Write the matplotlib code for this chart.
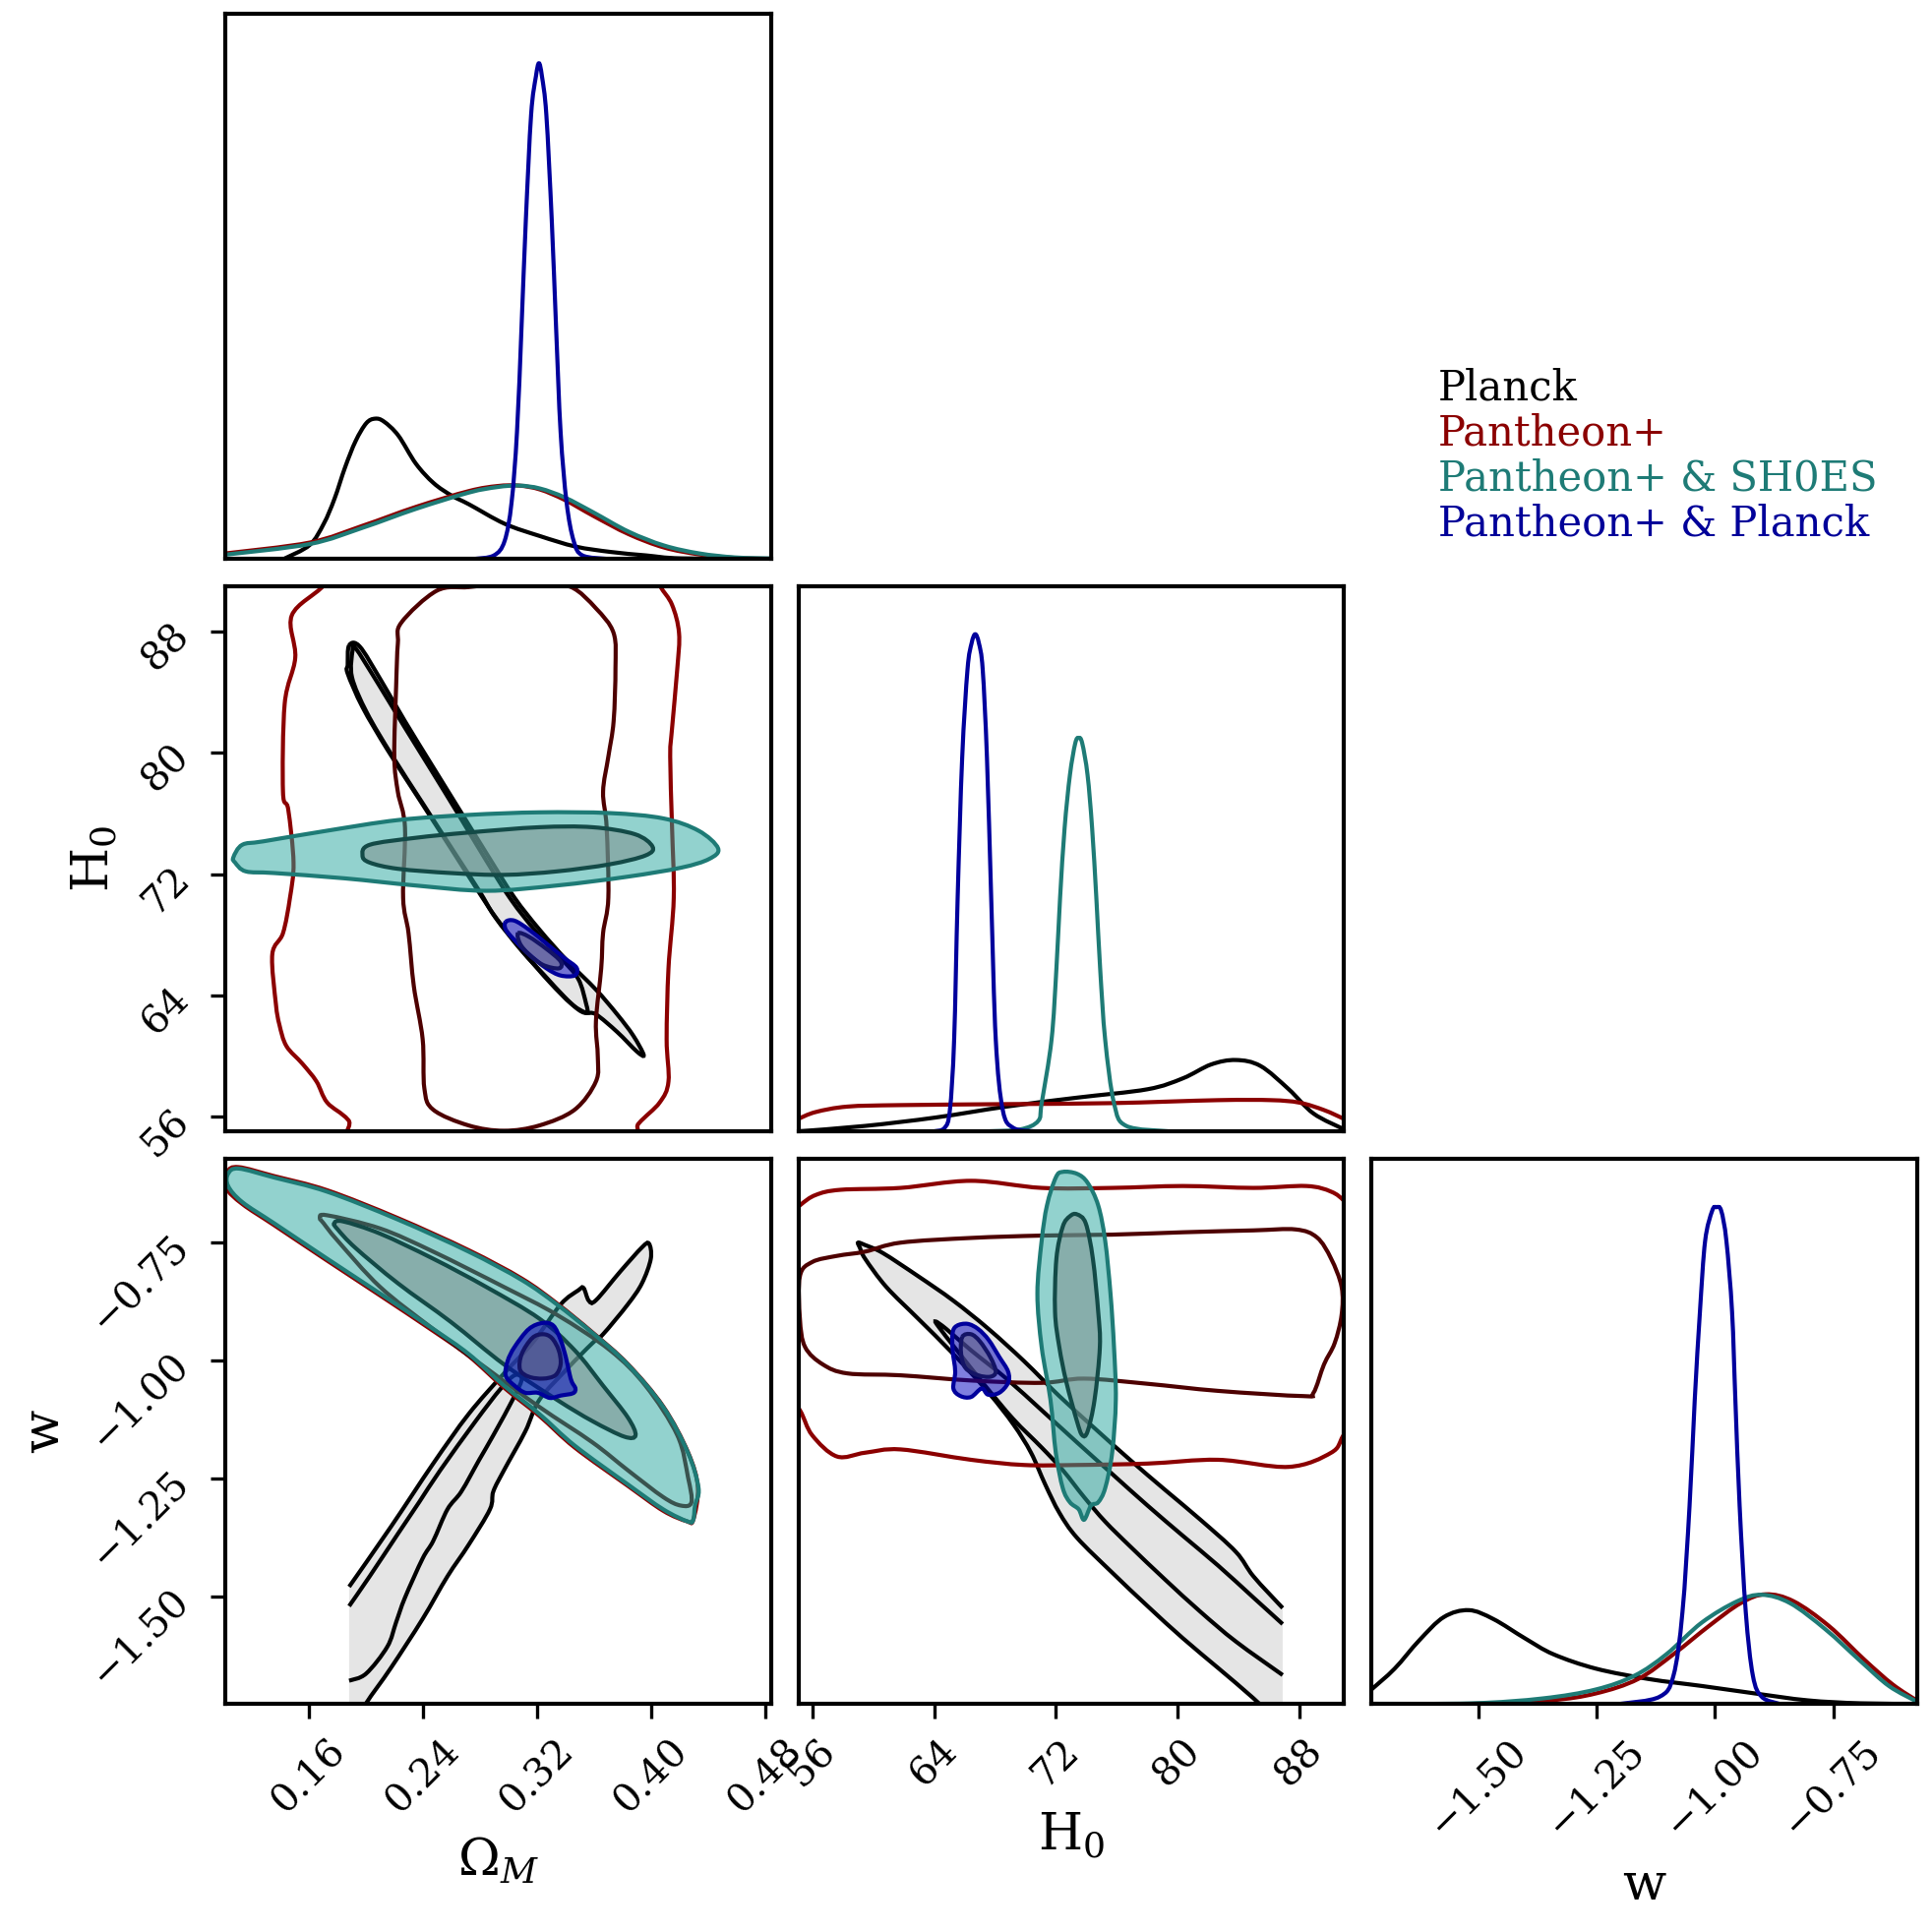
import numpy as np
import matplotlib.pyplot as plt
from matplotlib.path import Path
from matplotlib.patches import PathPatch

plt.rcParams['font.family'] = 'DejaVu Serif'
plt.rcParams['mathtext.fontset'] = 'dejavuserif'

names = ["Planck", "Pantheon+", "Pantheon+ & SH0ES", "Pantheon+ & Planck"]
line_colors = ["#000000", "#8b0000", "#1e7b76", "#00009c"]
inner_colors = ["#000000", "#4d0000", "#134a47", "#141466"]

om_lim = (0.1013, 0.4843)
h0_lim = (55.05, 90.97)
w_lim = (-1.727, -0.572)
om_ticks = [0.16, 0.24, 0.32, 0.40, 0.48]
om_ticklabels = ["0.16", "0.24", "0.32", "0.40", "0.48"]
h0_ticks = [56, 64, 72, 80, 88]
h0_ticklabels = ["56", "64", "72", "80", "88"]
w_ticks = [-1.50, -1.25, -1.00, -0.75]
w_ticklabels = ["\u22121.50", "\u22121.25", "\u22121.00", "\u22120.75"]

# ---- 1D marginals (relative density, blue peak = 1) ----
om_x_planck = [0.1431, 0.1605, 0.1704, 0.1779, 0.1854, 0.1928, 0.2003, 0.2065, 0.2127, 0.2227, 0.2351,
               0.2475, 0.2600, 0.2724, 0.2973, 0.3222, 0.3470, 0.3719, 0.3968, 0.4216, 0.4843]
om_pdf_planck = [0.001, 0.028, 0.071, 0.121, 0.185, 0.238, 0.274, 0.283, 0.277, 0.249, 0.192,
                 0.153, 0.128, 0.110, 0.071, 0.046, 0.025, 0.014, 0.007, 0.001, 0.0]
om_x_pan = [0.1013, 0.1605, 0.1978, 0.2351, 0.2724, 0.2923, 0.3072, 0.3222, 0.3395, 0.3595, 0.3843,
            0.4092, 0.4341, 0.4590, 0.4843]
om_pdf_pan = [0.011, 0.033, 0.067, 0.105, 0.137, 0.147, 0.148, 0.140, 0.119, 0.087, 0.050,
              0.023, 0.009, 0.002, 0.0]
om_x_shoes = [0.1013, 0.1605, 0.1978, 0.2351, 0.2724, 0.2923, 0.3072, 0.3222, 0.3395, 0.3595, 0.3843,
              0.4092, 0.4341, 0.4590, 0.4843]
om_pdf_shoes = [0.0085, 0.030, 0.063, 0.101, 0.134, 0.145, 0.148, 0.142, 0.124, 0.094, 0.055,
                0.027, 0.011, 0.003, 0.001]
om_x_pp = [0.2761, 0.2898, 0.2973, 0.3022, 0.3060, 0.3092, 0.3122, 0.3159, 0.3193, 0.3214,
           0.3235, 0.3266, 0.3304, 0.3334, 0.3366, 0.3408, 0.3458, 0.3520, 0.3694]
om_pdf_pp = [0.0, 0.007, 0.036, 0.114, 0.256, 0.469, 0.683, 0.896, 0.974, 1.0,
             0.974, 0.896, 0.683, 0.469, 0.256, 0.114, 0.036, 0.007, 0.0]

h0_x_planck = [55.03, 59.44, 64.09, 68.74, 73.38, 78.03, 80.35, 82.21, 83.84, 85.46, 87.32, 88.95, 90.97]
h0_pdf_planck = [0.0, 0.011, 0.028, 0.050, 0.068, 0.085, 0.107, 0.135, 0.144, 0.132, 0.085, 0.036, 0.004]
h0_x_pan = [55.03, 56.19, 58.28, 61.77, 68.74, 75.70, 82.67, 86.16, 88.02, 89.64, 90.97]
h0_pdf_pan = [0.025, 0.039, 0.050, 0.053, 0.055, 0.057, 0.063, 0.063, 0.058, 0.043, 0.025]
h0_x_shoes = [67.57, 69.66, 70.83, 71.06, 71.71, 72.03, 72.27, 72.57, 72.92, 73.27, 73.50,
              73.73, 74.08, 74.38, 74.66, 74.91, 75.24, 75.82, 76.63, 79.42]
h0_pdf_shoes = [0.0, 0.004, 0.021, 0.057, 0.185, 0.328, 0.470, 0.612, 0.719, 0.783, 0.794,
                0.783, 0.719, 0.612, 0.470, 0.328, 0.185, 0.057, 0.011, 0.0]
h0_x_pp = [63.97, 64.67, 65.02, 65.30, 65.53, 65.83, 66.18, 66.45, 66.69, 66.93, 67.18, 67.46,
           67.74, 68.04, 68.50, 69.20, 70.59]
h0_pdf_pp = [0.0, 0.007, 0.043, 0.185, 0.470, 0.754, 0.932, 0.985, 1.003, 0.985, 0.932, 0.754,
             0.470, 0.185, 0.043, 0.007, 0.0]

w_x_planck = [-1.727, -1.678, -1.626, -1.574, -1.521, -1.469, -1.402, -1.342, -1.252, -1.140,
              -1.028, -0.916, -0.804, -0.692, -0.572]
w_pdf_planck = [0.029, 0.071, 0.128, 0.175, 0.189, 0.171, 0.132, 0.100, 0.071, 0.050,
                0.036, 0.021, 0.007, 0.001, 0.0]
w_x_pan = [-1.727, -1.514, -1.349, -1.252, -1.163, -1.088, -1.013, -0.946, -0.893, -0.834,
           -0.759, -0.684, -0.624, -0.572]
w_pdf_pan = [0.0, 0.0, 0.007, 0.021, 0.050, 0.100, 0.157, 0.203, 0.221, 0.207,
             0.157, 0.089, 0.039, 0.006]
w_x_shoes = [-1.727, -1.514, -1.364, -1.252, -1.170, -1.103, -1.028, -0.953, -0.901, -0.841,
             -0.766, -0.692, -0.632, -0.572]
w_pdf_shoes = [0.0, 0.001, 0.011, 0.029, 0.057, 0.100, 0.164, 0.207, 0.220, 0.203,
               0.150, 0.086, 0.036, 0.004]
w_x_pp = [-1.200, -1.118, -1.088, -1.069, -1.054, -1.043, -1.032, -1.021, -1.006, -0.997,
          -0.987, -0.976, -0.964, -0.957, -0.948, -0.935, -0.920, -0.901, -0.864]
w_pdf_pp = [0.0, 0.014, 0.057, 0.185, 0.399, 0.613, 0.791, 0.934, 0.995, 1.002,
            0.995, 0.934, 0.791, 0.613, 0.399, 0.185, 0.057, 0.014, 0.0]

# ---- 2D contours (68% inner, 95% outer) ----
# Omega_M vs H0
omh0_planck_95 = [(0.1882, 87.07), (0.1956, 87.00), (0.2100, 84.86), (0.2274, 82.07), (0.2472, 79.04),
                  (0.2671, 76.02), (0.2870, 73.00), (0.3043, 70.44), (0.3217, 68.35), (0.3416, 66.25),
                  (0.3614, 64.39), (0.3763, 62.76), (0.3875, 61.37), (0.3949, 60.09), (0.3900, 60.32),
                  (0.3763, 61.60), (0.3614, 62.76), (0.3540, 62.88), (0.3440, 63.46), (0.3291, 64.86),
                  (0.3118, 66.72), (0.2919, 69.04), (0.2770, 71.14), (0.2596, 73.70), (0.2373, 76.95),
                  (0.2150, 80.21), (0.1976, 83.00), (0.1872, 85.21), (0.1872, 85.79)]
omh0_planck_68 = [(0.1926, 86.91), (0.2088, 84.51), (0.2261, 81.84), (0.2453, 78.93), (0.2651, 75.90),
                  (0.2845, 72.88), (0.3018, 70.32), (0.3192, 68.23), (0.3366, 66.48), (0.3490, 65.09),
                  (0.3545, 63.46), (0.3552, 62.88), (0.3495, 63.04), (0.3391, 63.93), (0.3254, 65.32),
                  (0.3093, 66.95), (0.2907, 69.16), (0.2795, 70.90), (0.2626, 73.35), (0.2403, 76.60),
                  (0.2180, 79.86), (0.2006, 82.65), (0.1902, 84.98), (0.1906, 86.72)]
omh0_pan_95 = [(0.1802, 92.77), (0.1703, 91.02), (0.1480, 89.05), (0.1504, 86.26), (0.1430, 83.23),
               (0.1418, 77.42), (0.1455, 76.25), (0.1492, 72.77), (0.1467, 70.44), (0.1418, 68.11),
               (0.1343, 66.72), (0.1368, 63.46), (0.1393, 62.07), (0.1442, 60.67), (0.1554, 59.51),
               (0.1653, 58.34), (0.1728, 56.95), (0.1877, 55.79), (0.2026, 53.69), (0.3763, 53.69),
               (0.3912, 55.55), (0.4061, 56.95), (0.4123, 58.34), (0.4110, 61.13), (0.4123, 65.79),
               (0.4160, 70.44), (0.4148, 75.09), (0.4135, 79.74), (0.4148, 81.60), (0.4185, 85.56),
               (0.4197, 87.88), (0.4148, 89.74), (0.4061, 91.02), (0.3962, 92.77)]
omh0_pan_68 = [(0.2249, 88.58), (0.2497, 90.67), (0.2721, 90.91), (0.2969, 91.14), (0.3217, 91.14),
               (0.3440, 90.91), (0.3614, 89.51), (0.3738, 87.88), (0.3751, 85.56), (0.3738, 82.07),
               (0.3701, 79.74), (0.3664, 77.42), (0.3689, 75.09), (0.3701, 70.44), (0.3664, 68.11),
               (0.3651, 65.79), (0.3614, 62.30), (0.3627, 59.97), (0.3614, 58.34), (0.3465, 56.48),
               (0.3217, 55.44), (0.2969, 55.09), (0.2721, 55.44), (0.2472, 56.48), (0.2410, 57.88),
               (0.2398, 61.13), (0.2336, 64.62), (0.2299, 68.11), (0.2261, 70.44), (0.2274, 75.09),
               (0.2224, 77.42), (0.2199, 79.74), (0.2212, 84.39), (0.2224, 87.19)]
omh0_shoes_95 = [(0.1070, 73.11), (0.1132, 73.93), (0.1281, 74.16), (0.1728, 74.86), (0.2224, 75.56),
                 (0.2721, 75.90), (0.3217, 76.07), (0.3713, 76.02), (0.4086, 75.67), (0.4334, 74.86),
                 (0.4471, 73.70), (0.4409, 73.00), (0.4210, 72.42), (0.3837, 71.83), (0.3341, 71.25),
                 (0.2845, 70.90), (0.2348, 71.25), (0.1852, 71.72), (0.1356, 72.07), (0.1157, 72.18),
                 (0.1082, 72.76)]
omh0_shoes_68 = [(0.1976, 73.23), (0.2026, 73.93), (0.2348, 74.39), (0.2721, 74.74), (0.3217, 75.09),
                 (0.3589, 75.09), (0.3887, 74.63), (0.4011, 73.81), (0.3962, 73.23), (0.3713, 72.65),
                 (0.3341, 72.18), (0.2969, 71.95), (0.2596, 72.07), (0.2224, 72.35), (0.2026, 72.76)]
omh0_pp_95 = [(0.2981, 68.86), (0.3043, 68.93), (0.3143, 68.35), (0.3267, 67.42), (0.3391, 66.48),
              (0.3478, 65.83), (0.3465, 65.32), (0.3366, 65.32), (0.3267, 65.79), (0.3143, 66.72),
              (0.3043, 67.65), (0.2981, 68.35)]
omh0_pp_68 = [(0.3068, 68.11), (0.3143, 67.88), (0.3267, 67.07), (0.3366, 66.25), (0.3354, 65.79),
              (0.3242, 66.02), (0.3143, 66.72), (0.3081, 67.42)]

# Omega_M vs w
omw_planck_95 = [(0.1882, -1.479), (0.2175, -1.352), (0.2472, -1.218), (0.2721, -1.113), (0.2969, -1.027),
                 (0.3167, -0.963), (0.3366, -0.881), (0.3490, -0.851), (0.3527, -0.846), (0.3564, -0.873),
                 (0.3614, -0.872), (0.3788, -0.810), (0.3937, -0.760), (0.3986, -0.752), (0.3999, -0.784),
                 (0.3937, -0.836), (0.3837, -0.881), (0.3664, -0.944), (0.3589, -0.963), (0.3416, -1.016),
                 (0.3217, -1.083), (0.3118, -1.150), (0.2969, -1.232), (0.2894, -1.277), (0.2870, -1.315),
                 (0.2721, -1.390), (0.2572, -1.457), (0.2398, -1.547), (0.2175, -1.651), (0.2001, -1.726),
                 (0.1926, -1.771), (0.1882, -1.771)]
omw_planck_68 = [(0.1882, -1.520), (0.2026, -1.457), (0.2224, -1.367), (0.2373, -1.300), (0.2522, -1.232),
                 (0.2770, -1.128), (0.2944, -1.060), (0.3043, -1.031), (0.3093, -1.038), (0.3043, -1.075),
                 (0.2894, -1.158), (0.2795, -1.210), (0.2670, -1.277), (0.2572, -1.315), (0.2472, -1.382),
                 (0.2398, -1.419), (0.2274, -1.502), (0.2212, -1.554), (0.2150, -1.606), (0.2001, -1.663),
                 (0.1882, -1.678)]
omw_pan_95 = [(0.1020, -0.634), (0.1028, -0.600), (0.1107, -0.590), (0.1356, -0.609), (0.1728, -0.639),
              (0.2224, -0.698), (0.2721, -0.766), (0.3093, -0.826), (0.3341, -0.879), (0.3589, -0.940),
              (0.3837, -1.007), (0.4086, -1.097), (0.4260, -1.194), (0.4329, -1.268), (0.4297, -1.337),
              (0.4250, -1.340), (0.4086, -1.318), (0.3837, -1.265), (0.3465, -1.184), (0.3217, -1.117),
              (0.2969, -1.057), (0.2721, -0.990), (0.2472, -0.937), (0.2100, -0.862), (0.1728, -0.788),
              (0.1356, -0.713), (0.1132, -0.668)]
omw_pan_68 = [(0.1678, -0.698), (0.1728, -0.692), (0.2100, -0.720), (0.2472, -0.769), (0.2969, -0.844),
              (0.3341, -0.903), (0.3713, -0.978), (0.3962, -1.053), (0.4185, -1.158), (0.4260, -1.247),
              (0.4284, -1.300), (0.4210, -1.307), (0.4086, -1.289), (0.3837, -1.232), (0.3589, -1.173),
              (0.3217, -1.098), (0.2845, -1.016), (0.2472, -0.933), (0.2100, -0.844), (0.1802, -0.746),
              (0.1703, -0.709)]
omw_shoes_95 = [(0.1033, -0.630), (0.1033, -0.604), (0.1107, -0.593), (0.1356, -0.612), (0.1728, -0.642),
                (0.2224, -0.701), (0.2721, -0.769), (0.3093, -0.829), (0.3341, -0.881), (0.3589, -0.941),
                (0.3837, -1.008), (0.4086, -1.098), (0.4260, -1.195), (0.4334, -1.270), (0.4309, -1.307),
                (0.4297, -1.337), (0.4260, -1.341), (0.4086, -1.315), (0.3837, -1.262), (0.3465, -1.180),
                (0.3217, -1.113), (0.2969, -1.053), (0.2721, -0.986), (0.2472, -0.933), (0.2100, -0.858),
                (0.1728, -0.784), (0.1356, -0.709), (0.1132, -0.664)]
omw_shoes_68 = [(0.1777, -0.709), (0.1840, -0.705), (0.2100, -0.731), (0.2472, -0.784), (0.2845, -0.844),
                (0.3217, -0.911), (0.3465, -0.978), (0.3664, -1.053), (0.3837, -1.120), (0.3892, -1.158),
                (0.3813, -1.161), (0.3589, -1.128), (0.3341, -1.083), (0.2969, -1.008), (0.2596, -0.918),
                (0.2224, -0.836), (0.1926, -0.761), (0.1802, -0.722)]
omw_pp_95 = [(0.3143, -0.933), (0.3242, -0.920), (0.3316, -0.926), (0.3366, -0.956), (0.3403, -0.993),
             (0.3428, -1.027), (0.3445, -1.045), (0.3470, -1.059), (0.3453, -1.069), (0.3366, -1.074),
             (0.3291, -1.079), (0.3205, -1.068), (0.3118, -1.068), (0.3043, -1.053), (0.2981, -1.032),
             (0.2994, -1.001), (0.3043, -0.971)]
omw_pp_68 = [(0.3167, -0.952), (0.3242, -0.944), (0.3304, -0.952), (0.3353, -0.978), (0.3366, -1.008),
             (0.3329, -1.031), (0.3242, -1.038), (0.3143, -1.034), (0.3081, -1.019), (0.3093, -0.986)]

# H0 vs w
h0w_planck_95 = [(86.92, -1.524), (85.00, -1.457), (83.84, -1.405), (81.51, -1.337), (79.19, -1.274),
                 (76.87, -1.210), (74.54, -1.143), (72.22, -1.075), (69.90, -1.001), (67.57, -0.933),
                 (65.25, -0.873), (62.93, -0.821), (60.61, -0.772), (59.44, -0.755), (58.98, -0.750),
                 (59.10, -0.761), (59.44, -0.784), (60.84, -0.844), (62.93, -0.911), (65.25, -0.986),
                 (67.57, -1.068), (69.20, -1.135), (70.36, -1.195), (71.29, -1.262), (72.22, -1.322),
                 (73.38, -1.375), (75.70, -1.449), (78.03, -1.520), (80.35, -1.588), (82.67, -1.651),
                 (84.99, -1.715), (86.85, -1.771), (86.92, -1.771)]
h0w_planck_68 = [(86.92, -1.558), (85.00, -1.502), (82.67, -1.434), (80.35, -1.371), (78.03, -1.307),
                 (75.70, -1.240), (73.38, -1.173), (71.06, -1.105), (68.74, -1.038), (66.41, -0.978),
                 (64.79, -0.933), (64.09, -0.917), (64.32, -0.930), (65.48, -0.978), (67.34, -1.053),
                 (69.20, -1.124), (71.06, -1.184), (72.45, -1.232), (73.85, -1.289), (75.24, -1.341),
                 (76.87, -1.393), (79.19, -1.464), (81.51, -1.532), (83.84, -1.595), (86.92, -1.666)]
h0w_pan_95 = [(53.87, -0.709), (55.15, -0.671), (56.19, -0.649), (57.82, -0.638), (61.77, -0.634),
              (66.41, -0.619), (71.06, -0.634), (75.70, -0.634), (80.35, -0.630), (84.99, -0.634),
              (88.48, -0.630), (90.11, -0.642), (91.04, -0.664), (92.20, -0.709), (92.20, -1.083),
              (90.92, -1.158), (90.11, -1.195), (87.32, -1.225), (82.67, -1.210), (78.03, -1.218),
              (73.38, -1.221), (69.90, -1.221), (66.41, -1.210), (61.77, -1.188), (59.44, -1.195),
              (57.59, -1.203), (55.96, -1.158), (55.15, -1.105), (53.87, -1.045)]
h0w_pan_68 = [(55.15, -0.821), (55.96, -0.791), (57.59, -0.778), (59.44, -0.769), (61.77, -0.750),
              (66.41, -0.740), (71.06, -0.735), (75.70, -0.733), (80.35, -0.728), (84.99, -0.724),
              (87.78, -0.722), (89.18, -0.739), (90.11, -0.784), (90.80, -0.844), (90.80, -0.903),
              (90.34, -0.963), (89.64, -1.008), (88.95, -1.068), (88.25, -1.075), (82.67, -1.064),
              (78.03, -1.049), (73.85, -1.038), (71.06, -1.047), (66.41, -1.042), (61.77, -1.031),
              (58.28, -1.027), (56.66, -1.008), (55.49, -0.971), (55.15, -0.911)]
h0w_shoes_95 = [(72.45, -0.600), (73.38, -0.604), (74.08, -0.623), (74.78, -0.671), (75.24, -0.746),
                (75.59, -0.858), (75.82, -0.971), (75.94, -1.083), (75.70, -1.195), (75.24, -1.270),
                (74.78, -1.300), (74.31, -1.307), (73.85, -1.337), (73.50, -1.315), (72.92, -1.300),
                (72.45, -1.270), (71.99, -1.195), (71.64, -1.083), (71.06, -0.971), (70.78, -0.858),
                (71.06, -0.746), (71.41, -0.671), (71.99, -0.612)]
h0w_shoes_68 = [(72.92, -0.694), (73.38, -0.690), (73.96, -0.709), (74.43, -0.784), (74.78, -0.896),
                (74.89, -0.971), (74.54, -1.083), (74.08, -1.150), (73.73, -1.158), (73.38, -1.128),
                (72.68, -1.045), (72.22, -0.971), (71.94, -0.896), (72.03, -0.784), (72.45, -0.716)]
h0w_pp_95 = [(65.48, -0.926), (66.18, -0.922), (66.88, -0.933), (67.57, -0.956), (68.27, -0.992),
             (68.85, -1.023), (68.85, -1.047), (68.27, -1.068), (67.53, -1.072), (67.11, -1.059),
             (66.41, -1.077), (65.72, -1.075), (65.25, -1.059), (65.37, -1.023), (65.20, -0.978),
             (65.20, -0.941)]
h0w_pp_68 = [(65.83, -0.950), (66.41, -0.944), (66.99, -0.959), (67.69, -0.993), (68.04, -1.023),
             (67.69, -1.034), (66.88, -1.031), (66.06, -1.016), (65.76, -0.986)]


def smooth_path(pts, closed):
    # Catmull-Rom curve through the read points, drawn as cubic Bezier segments
    p = np.asarray(pts, float)
    n = len(p)
    if closed:
        ext = np.vstack([p[-1:], p, p[:2]])
        nseg = n
    else:
        ext = np.vstack([p[:1], p, p[-1:]])
        nseg = n - 1
    verts = [p[0]]
    codes = [Path.MOVETO]
    for i in range(nseg):
        p0, p1, p2, p3 = ext[i], ext[i + 1], ext[i + 2], ext[i + 3]
        verts += [p1 + (p2 - p0) / 6, p2 - (p3 - p1) / 6, p2]
        codes += [Path.CURVE4] * 3
    return Path(np.array(verts), codes)


def draw_pair(ax, outer, inner, k, fill_outer=None, fill_inner=None, alpha=0.5, closed=True):
    po = smooth_path(outer, closed)
    pi = smooth_path(inner, closed)
    if fill_outer is not None:
        ax.add_patch(PathPatch(po, facecolor=fill_outer, alpha=alpha, lw=0))
    if fill_inner is not None:
        ax.add_patch(PathPatch(pi, facecolor=fill_inner, alpha=alpha, lw=0))
    ax.add_patch(PathPatch(po, fill=False, edgecolor=line_colors[k], lw=1.0))
    ax.add_patch(PathPatch(pi, fill=False, edgecolor=inner_colors[k], lw=1.0))


def draw_marginal(ax, x, y, k):
    ax.add_patch(PathPatch(smooth_path(list(zip(x, y)), False), fill=False,
                           edgecolor=line_colors[k], lw=1.0))


fig, axes = plt.subplots(3, 3, figsize=(1964 / 300, 1964 / 300), dpi=300,
                         gridspec_kw=dict(left=0.1166, right=0.9924, bottom=0.1181, top=0.9929,
                                          wspace=0.05, hspace=0.05))
for ax in [axes[0, 1], axes[0, 2], axes[1, 2]]:
    ax.axis('off')

# diagonal marginals
ax = axes[0, 0]
for k, (x, y) in enumerate([(om_x_planck, om_pdf_planck), (om_x_pan, om_pdf_pan),
                            (om_x_shoes, om_pdf_shoes), (om_x_pp, om_pdf_pp)]):
    draw_marginal(ax, x, y, k)
ax.set_xlim(om_lim)

ax = axes[1, 1]
for k, (x, y) in enumerate([(h0_x_planck, h0_pdf_planck), (h0_x_pan, h0_pdf_pan),
                            (h0_x_shoes, h0_pdf_shoes), (h0_x_pp, h0_pdf_pp)]):
    draw_marginal(ax, x, y, k)
ax.set_xlim(h0_lim)

ax = axes[2, 2]
for k, (x, y) in enumerate([(w_x_planck, w_pdf_planck), (w_x_pan, w_pdf_pan),
                            (w_x_shoes, w_pdf_shoes), (w_x_pp, w_pdf_pp)]):
    draw_marginal(ax, x, y, k)
ax.set_xlim(w_lim)

for ax in [axes[0, 0], axes[1, 1], axes[2, 2]]:
    ax.set_ylim(0, 1.1)

# 2D panels
ax = axes[1, 0]
draw_pair(ax, omh0_planck_95, omh0_planck_68, 0, fill_outer="#e5e5e5", alpha=1.0)
draw_pair(ax, omh0_pan_95, omh0_pan_68, 1)
draw_pair(ax, omh0_shoes_95, omh0_shoes_68, 2, "#27a79f", "#7d8b89")
draw_pair(ax, omh0_pp_95, omh0_pp_68, 3, "#0000c1", "#66667d")
ax.set_xlim(om_lim)
ax.set_ylim(h0_lim)

ax = axes[2, 0]
draw_pair(ax, omw_planck_95, omw_planck_68, 0, fill_outer="#e5e5e5", alpha=1.0, closed=False)
draw_pair(ax, omw_pan_95, omw_pan_68, 1)
draw_pair(ax, omw_shoes_95, omw_shoes_68, 2, "#27a79f", "#7d8b89")
draw_pair(ax, omw_pp_95, omw_pp_68, 3, "#0000c1", "#66667d")
ax.set_xlim(om_lim)
ax.set_ylim(w_lim)

ax = axes[2, 1]
draw_pair(ax, h0w_planck_95, h0w_planck_68, 0, fill_outer="#e5e5e5", alpha=1.0, closed=False)
draw_pair(ax, h0w_pan_95, h0w_pan_68, 1)
draw_pair(ax, h0w_shoes_95, h0w_shoes_68, 2, "#27a79f", "#7d8b89")
draw_pair(ax, h0w_pp_95, h0w_pp_68, 3, "#0000c1", "#66667d")
ax.set_xlim(h0_lim)
ax.set_ylim(w_lim)

# ticks and labels
tick_fs = 9.6
label_fs = 12.4
for r in range(3):
    for c in range(r + 1):
        ax = axes[r, c]
        for s in ax.spines.values():
            s.set_linewidth(1.0)
        if r == 2:
            ticks, labels = [(om_ticks, om_ticklabels), (h0_ticks, h0_ticklabels),
                             (w_ticks, w_ticklabels)][c]
            ax.set_xticks(ticks)
            ax.set_xticklabels(labels, rotation=45, fontsize=tick_fs)
        else:
            ax.set_xticks([])
        if c == 0 and r > 0:
            ticks, labels = [(h0_ticks, h0_ticklabels), (w_ticks, w_ticklabels)][r - 1]
            ax.set_yticks(ticks)
            ax.set_yticklabels(labels, rotation=45, fontsize=tick_fs)
        else:
            ax.set_yticks([])

axes[2, 0].set_xlabel(r"$\Omega_M$", fontsize=label_fs)
axes[2, 1].set_xlabel(r"H$_0$", fontsize=label_fs)
axes[2, 2].set_xlabel("w", fontsize=label_fs)
axes[1, 0].set_ylabel(r"H$_0$", fontsize=label_fs)
axes[2, 0].set_ylabel("w", fontsize=label_fs)

legend_colors = ["#000000", "#8b0000", "#1e7b76", "#000099"]
for k, name in enumerate(names):
    fig.text(0.7444, 0.7929 - 0.0234 * k, name, color=legend_colors[k], fontsize=10.0, va='baseline')

fig.savefig("out.png", dpi=300)
